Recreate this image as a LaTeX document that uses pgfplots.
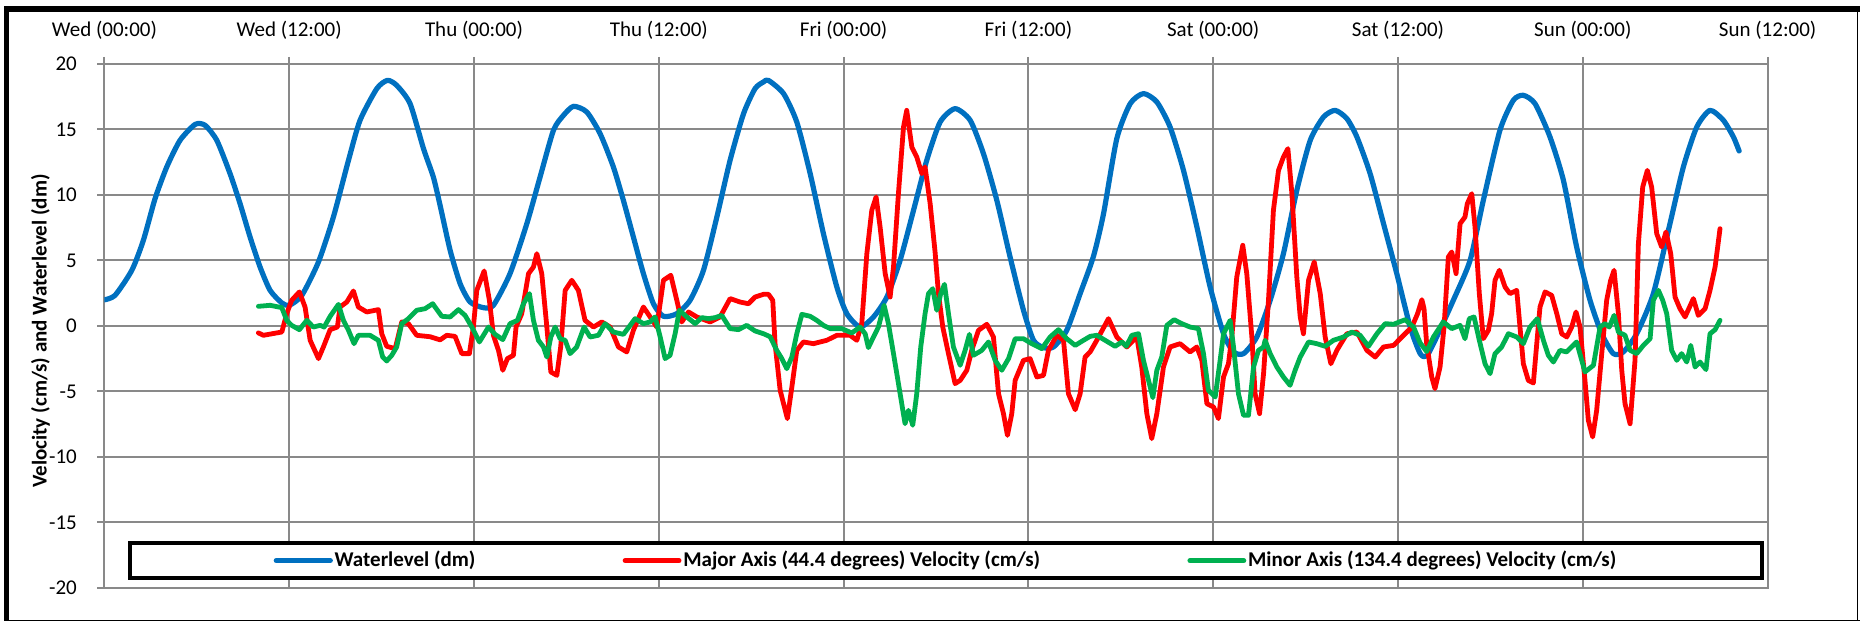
\documentclass[border=0pt]{standalone}
\usepackage{fontspec}
\setmainfont{Carlito}
\usepackage{pgfplots}
\pgfplotsset{compat=1.18}
\definecolor{wlblue}{RGB}{0,112,192}
\definecolor{majred}{RGB}{255,0,0}
\definecolor{mingreen}{RGB}{0,176,80}
\definecolor{gridgray}{RGB}{137,137,137}
\begin{document}
\fontsize{10.5}{12.6}\selectfont
\begin{tikzpicture}
\path[use as bounding box] (0,0) rectangle (930pt,310.5pt);
% frame of the chart
\draw[line width=0.6pt] (928.7pt,0) -- (928.7pt,305pt);
\draw[line width=0.6pt] (3pt,0.3pt) -- (930pt,0.3pt);
\draw[line width=2.85pt] (2pt,306.1pt) -- (930pt,306.1pt);
\draw[line width=2.35pt] (3.2pt,0) -- (3.2pt,307.5pt);
\begin{axis}[
  at={(52.2pt,16.5pt)}, anchor=south west,
  scale only axis, width=831.6pt, height=262pt,
  xmin=0, xmax=108, ymin=-20, ymax=20,
  xtick={0,12,...,108},
  xticklabels={Wed (00:00),Wed (12:00),Thu (00:00),Thu (12:00),Fri (00:00),Fri (12:00),Sat (00:00),Sat (12:00),Sun (00:00),Sun (12:00)},
  ytick={-20,-15,...,20},
  yticklabels={-20,-15,-10,-5,0,5,10,15,20},
  xtick pos=right, xticklabel pos=right, ytick pos=left,
  tick align=outside, major tick length=3.5pt,
  tick style={gridgray, line width=1pt},
  grid=major, grid style={gridgray, line width=1pt},
  axis line style={gridgray, line width=1pt},
  xticklabel style={font=\fontsize{10.5}{12}\selectfont, anchor=base, inner sep=0pt, yshift=10.15pt},
  yticklabel style={font=\fontsize{10.5}{12}\selectfont, anchor=east, inner sep=0pt, xshift=-10.1pt},
  ylabel={Velocity (cm/s) and Waterlevel (dm)},
  ylabel style={font=\bfseries\fontsize{10.5}{12}\selectfont, at={(axis description cs:-0.0385,0.4905)}, anchor=center},
  legend columns=3,
  legend image code/.code={\draw[#1] (0pt,0pt) -- (27pt,0pt);},
  legend style={at={(rel axis cs:0.014,0.0153)}, anchor=south west, draw=black, line width=2pt,
    inner xsep=72pt, inner ysep=1pt, font=\bfseries\fontsize{10.5}{12}\selectfont,
    nodes={inner xsep=0.9pt, inner ysep=3pt},
    /tikz/every even column/.append style={column sep=72.7pt}},
  every axis plot/.append style={line join=round, line cap=round},
]
\addplot[wlblue, line width=2.6pt, smooth, tension=0.4] coordinates {
(0,2.0)(0.69,2.34)(1.78,4.25)(2.53,6.54)(3.29,9.72)(4.05,12.14)(4.91,14.17)(5.89,15.39)(6.54,15.32)(7.30,14.17)(8.16,11.63)(8.81,9.34)(9.46,6.79)(10.11,4.50)(10.76,2.72)(11.52,1.76)(12.01,1.58)(12.82,2.34)(13.90,4.89)(14.87,8.32)(15.85,12.65)(16.60,15.70)(17.69,18.12)(18.38,18.75)(18.98,18.37)(19.85,16.97)(20.72,13.54)(21.36,11.37)(21.80,9.2)(22.45,5.78)(23.1,3.23)(23.75,1.83)(24.61,1.40)(25.26,1.58)(26.34,4.0)(27.43,7.81)(28.29,11.37)(29.16,14.94)(29.81,16.08)(30.46,16.77)(31.32,16.34)(32.19,14.68)(33.05,12.14)(33.70,9.59)(34.35,6.79)(35.0,4.0)(35.65,1.70)(36.30,0.74)(37.17,0.94)(38.03,1.96)(38.90,4.25)(39.77,8.32)(40.63,12.65)(41.5,16.2)(42.25,18.12)(42.8,18.63)(43.12,18.75)(44.1,17.74)(44.96,15.57)(45.83,11.63)(46.69,7.05)(47.56,2.98)(48.21,0.94)(49.07,-0.08)(49.94,0.69)(50.81,2.21)(51.67,5.01)(52.54,8.83)(53.4,12.65)(54.27,15.57)(55.24,16.59)(56.22,15.70)(57.08,13.16)(57.95,9.59)(58.81,5.27)(59.68,1.20)(60.33,-1.09)(60.98,-1.65)(61.63,-1.60)(62.49,-0.33)(63.36,2.47)(64.22,5.3)(64.88,8.58)(65.74,14.3)(66.61,16.97)(67.47,17.74)(68.34,17.10)(69.2,15.19)(70.07,11.88)(70.94,7.56)(71.8,2.98)(72.67,-0.59)(73.32,-1.98)(73.97,-2.11)(74.83,-0.84)(75.70,1.96)(76.56,5.52)(77.43,10.36)(78.3,14.17)(79.16,15.95)(79.92,16.46)(80.68,15.83)(81.33,14.43)(82.19,11.63)(83.06,7.81)(83.92,4.0)(84.79,-0.08)(85.44,-2.11)(85.87,-2.28)(86.51,-0.84)(87.59,1.96)(88.68,5.01)(89.54,9.59)(90.62,14.94)(91.49,17.23)(92.14,17.61)(92.90,16.97)(93.87,14.43)(94.74,11.12)(95.6,6.03)(96.47,1.96)(97.23,-0.59)(97.98,-2.11)(98.63,-1.98)(99.5,-0.59)(100.58,2.47)(101.66,7.81)(102.53,12.14)(103.4,15.19)(104.26,16.46)(105.13,15.70)(105.78,14.43)(106.15,13.36)
};
\addlegendentry{Waterlevel (dm)}
\addplot[majred, line width=2.4pt] coordinates {
(10.0,-0.53)(10.33,-0.71)(11.52,-0.46)(11.84,0.94)(12.16,1.96)(12.66,2.60)(13.03,1.45)(13.36,-1.09)(13.90,-2.49)(14.22,-1.60)(14.66,-0.28)(15.13,-0.08)(15.30,1.45)(15.74,1.83)(16.17,2.67)(16.49,1.45)(17.04,1.07)(17.79,1.25)(18.01,-0.59)(18.33,-1.55)(18.88,-1.73)(19.31,0.31)(19.74,0.18)(20.28,-0.71)(21.15,-0.82)(21.80,-1.06)(22.23,-0.71)(22.77,-0.79)(23.21,-2.11)(23.70,-2.11)(23.96,-0.08)(24.18,2.72)(24.66,4.20)(25.0,1.96)(25.26,-0.71)(25.59,-1.86)(25.87,-3.38)(26.17,-2.49)(26.56,-2.24)(26.73,-0.08)(27.10,0.94)(27.54,4.0)(27.86,4.50)(28.08,5.52)(28.40,4.0)(28.73,-0.08)(28.99,-3.51)(29.38,-3.77)(29.63,-1.60)(29.92,2.72)(30.35,3.49)(30.78,2.72)(31.21,0.43)(31.76,-0.08)(32.30,0.31)(32.84,-0.08)(33.38,-1.60)(33.92,-1.98)(34.35,-0.33)(35.0,1.45)(35.44,0.69)(35.87,-0.08)(36.30,3.49)(36.78,3.87)(37.17,1.96)(37.49,0.31)(37.93,1.07)(38.47,0.69)(39.33,0.31)(39.98,0.69)(40.63,2.09)(41.28,1.83)(41.82,1.70)(42.25,2.21)(42.8,2.42)(43.12,2.42)(43.40,1.96)(43.55,-1.35)(43.88,-4.91)(44.35,-7.07)(44.64,-4.66)(44.96,-1.86)(45.39,-1.22)(46.04,-1.35)(46.91,-1.09)(47.56,-0.71)(48.42,-0.71)(48.86,-1.09)(49.18,0.18)(49.51,5.52)(49.83,8.83)(50.11,9.85)(50.37,7.56)(50.70,4.0)(51.02,2.21)(51.24,4.50)(51.56,10.10)(51.89,15.19)(52.10,16.46)(52.43,13.66)(52.75,12.90)(53.08,11.63)(53.29,12.14)(53.62,9.34)(53.94,5.65)(54.16,2.47)(54.44,-0.08)(54.81,-2.11)(55.24,-4.40)(55.57,-4.15)(56.0,-3.38)(56.32,-1.86)(56.76,-0.33)(57.30,0.13)(57.73,-0.84)(58.06,-5.17)(58.38,-6.69)(58.64,-8.35)(58.92,-6.69)(59.14,-4.15)(59.68,-2.62)(60.11,-2.49)(60.55,-3.89)(60.98,-3.77)(61.30,-1.86)(61.85,-0.71)(62.28,-1.09)(62.6,-5.17)(63.04,-6.39)(63.36,-5.17)(63.68,-2.37)(64.01,-1.98)(64.44,-1.09)(65.20,0.56)(65.74,-0.84)(66.39,-1.60)(67.04,-0.84)(67.36,-3.13)(67.69,-6.69)(68.01,-8.60)(68.34,-6.69)(68.77,-3.13)(69.2,-1.60)(69.85,-1.35)(70.50,-1.98)(70.94,-1.60)(71.26,-2.62)(71.59,-5.93)(72.02,-6.18)(72.34,-7.07)(72.67,-3.89)(72.99,-2.88)(73.21,-0.84)(73.53,3.74)(73.92,6.16)(74.18,4.0)(74.51,-0.84)(74.72,-5.17)(75.01,-6.69)(75.27,-3.64)(75.59,1.96)(75.91,8.83)(76.24,11.88)(76.56,12.90)(76.85,13.54)(77.11,10.10)(77.43,3.74)(77.65,0.69)(77.86,-0.59)(78.19,3.49)(78.56,4.89)(78.95,2.47)(79.27,-0.84)(79.64,-2.88)(80.03,-1.86)(80.68,-0.59)(81.33,-0.46)(81.98,-1.86)(82.52,-2.37)(83.06,-1.60)(83.71,-1.48)(84.25,-0.84)(84.90,-0.08)(85.27,0.94)(85.55,2.01)(85.69,1.32)(85.86,-1.35)(86.19,-3.89)(86.40,-4.78)(86.73,-3.13)(86.99,-0.08)(87.27,5.27)(87.49,5.65)(87.77,4.0)(88.03,7.81)(88.35,8.32)(88.50,9.34)(88.79,10.10)(89.0,7.56)(89.28,2.47)(89.54,-0.97)(89.87,-0.33)(90.08,0.94)(90.30,3.49)(90.58,4.25)(90.95,2.98)(91.27,2.47)(91.71,2.72)(91.92,-0.08)(92.14,-2.88)(92.46,-4.15)(92.79,-4.35)(93.01,-1.35)(93.22,1.45)(93.55,2.60)(93.98,2.34)(94.31,0.94)(94.63,-0.59)(94.96,-0.84)(95.28,-0.08)(95.56,1.07)(95.82,-0.08)(96.14,-4.15)(96.36,-7.20)(96.64,-8.47)(96.90,-6.44)(97.23,-2.11)(97.55,1.96)(97.81,3.49)(98.03,4.25)(98.31,0.94)(98.53,-3.38)(98.74,-5.93)(99.07,-7.46)(99.39,-2.62)(99.61,6.28)(99.89,10.61)(100.19,11.88)(100.47,10.61)(100.80,7.05)(101.12,6.03)(101.40,7.18)(101.71,5.52)(101.99,2.21)(102.31,1.32)(102.64,0.69)(103.18,2.09)(103.50,0.81)(103.94,1.32)(104.26,2.72)(104.59,4.50)(104.91,7.43)
};
\addlegendentry{Major Axis (44.4 degrees) Velocity (cm/s)}
\addplot[mingreen, line width=2.4pt] coordinates {
(10.0,1.50)(10.76,1.58)(11.52,1.40)(11.84,0.43)(12.16,0.05)(12.66,-0.28)(13.14,0.43)(13.57,-0.08)(14.01,0.05)(14.27,-0.08)(14.66,0.74)(15.20,1.65)(15.52,0.43)(15.85,-0.33)(16.21,-1.35)(16.49,-0.71)(17.25,-0.71)(17.79,-1.09)(18.07,-2.37)(18.33,-2.67)(18.66,-2.24)(18.98,-1.60)(19.31,0.18)(19.74,0.56)(20.28,1.20)(20.82,1.32)(21.32,1.70)(21.47,1.45)(21.91,0.74)(22.45,0.69)(22.99,1.25)(23.42,0.81)(23.86,-0.08)(24.35,-1.22)(24.94,-0.08)(25.37,-0.64)(25.87,-1.04)(26.34,0.18)(26.82,0.43)(27.21,1.70)(27.60,2.47)(27.86,0.43)(28.18,-1.09)(28.51,-1.60)(28.73,-2.37)(28.99,-0.84)(29.27,-0.08)(29.59,-0.97)(29.92,-1.09)(30.24,-2.11)(30.67,-1.60)(31.15,-0.08)(31.54,-0.84)(32.08,-0.71)(32.51,0.18)(33.05,-0.46)(33.70,-0.64)(34.14,0.05)(34.46,0.56)(35.0,0.18)(35.44,0.31)(35.76,0.69)(36.09,-0.84)(36.41,-2.49)(36.73,-2.24)(37.06,-0.59)(37.34,1.20)(37.82,0.69)(38.36,0.18)(38.79,0.64)(39.22,0.56)(39.66,0.64)(40.09,0.81)(40.63,-0.20)(41.17,-0.28)(41.71,0.05)(42.25,-0.38)(42.8,-0.59)(43.23,-0.82)(43.66,-1.86)(43.99,-2.49)(44.31,-3.26)(44.64,-2.37)(44.96,-0.59)(45.29,0.89)(45.83,0.74)(46.26,0.43)(46.69,0.05)(47.13,-0.20)(47.88,-0.20)(48.53,-0.53)(49.07,-0.08)(49.40,-0.59)(49.61,-1.65)(49.94,-0.84)(50.26,-0.08)(50.63,1.58)(50.91,0.18)(51.24,-2.11)(51.67,-5.17)(51.99,-7.46)(52.21,-6.44)(52.49,-7.58)(52.75,-5.17)(53.01,-1.60)(53.29,0.94)(53.51,2.47)(53.79,2.85)(54.05,1.20)(54.31,2.47)(54.55,3.18)(54.81,0.94)(55.13,-1.60)(55.57,-3.0)(55.89,-1.86)(56.17,-0.64)(56.43,-2.24)(56.97,-1.86)(57.41,-1.22)(57.84,-2.62)(58.27,-3.38)(58.71,-2.49)(59.14,-0.97)(59.68,-0.97)(60.22,-1.35)(60.87,-1.73)(61.41,-0.84)(61.95,-0.28)(62.49,-0.97)(63.04,-1.48)(63.58,-1.09)(64.01,-0.79)(64.44,-0.71)(64.98,-1.09)(65.63,-1.55)(66.07,-1.22)(66.35,-1.55)(66.72,-0.71)(67.15,-0.59)(67.47,-2.62)(67.80,-4.15)(68.08,-5.47)(68.34,-3.38)(68.66,-2.37)(68.99,0.05)(69.46,0.48)(69.96,0.18)(70.50,-0.08)(71.04,-0.20)(71.37,-2.11)(71.69,-4.91)(72.13,-5.42)(72.45,-2.62)(72.67,-0.59)(73.10,0.43)(73.32,-1.60)(73.64,-5.17)(73.97,-6.82)(74.29,-6.82)(74.62,-3.13)(74.94,-1.86)(75.27,-1.60)(75.37,-1.09)(75.70,-2.11)(76.13,-3.13)(76.56,-3.89)(76.99,-4.53)(77.32,-3.38)(77.65,-2.37)(78.19,-1.22)(78.73,-1.35)(79.27,-1.55)(79.81,-1.09)(80.46,-0.84)(81.0,-0.46)(81.54,-0.71)(82.08,-1.55)(82.63,-0.59)(83.17,0.18)(83.71,0.13)(84.46,0.48)(85.01,-0.08)(85.44,-1.30)(85.86,-1.95)(86.30,-0.84)(86.94,0.31)(87.49,-0.20)(88.03,0.05)(88.35,-0.97)(88.63,0.56)(88.94,0.69)(89.28,-1.09)(89.65,-2.88)(89.98,-3.64)(90.30,-2.11)(90.73,-1.60)(91.17,-0.59)(91.71,-0.84)(92.14,-1.35)(92.57,-0.08)(93.05,0.56)(93.44,-1.09)(93.76,-2.24)(94.09,-2.75)(94.52,-1.86)(94.95,-1.98)(95.60,-1.22)(96.14,-3.51)(96.69,-3.0)(97.12,-0.08)(97.44,0.18)(97.72,-0.08)(98.03,0.81)(98.31,-0.46)(98.74,-0.71)(99.07,-1.86)(99.50,-2.11)(99.93,-1.48)(100.37,-0.97)(100.58,1.96)(100.91,2.72)(101.19,1.96)(101.45,0.94)(101.77,-1.86)(102.10,-2.62)(102.42,-2.11)(102.75,-2.75)(103.01,-1.48)(103.29,-3.13)(103.61,-2.75)(104.0,-3.33)(104.26,-0.59)(104.59,-0.28)(104.91,0.43)
};
\addlegendentry{Minor Axis (134.4 degrees) Velocity (cm/s)}
\end{axis}
\end{tikzpicture}
\end{document}
